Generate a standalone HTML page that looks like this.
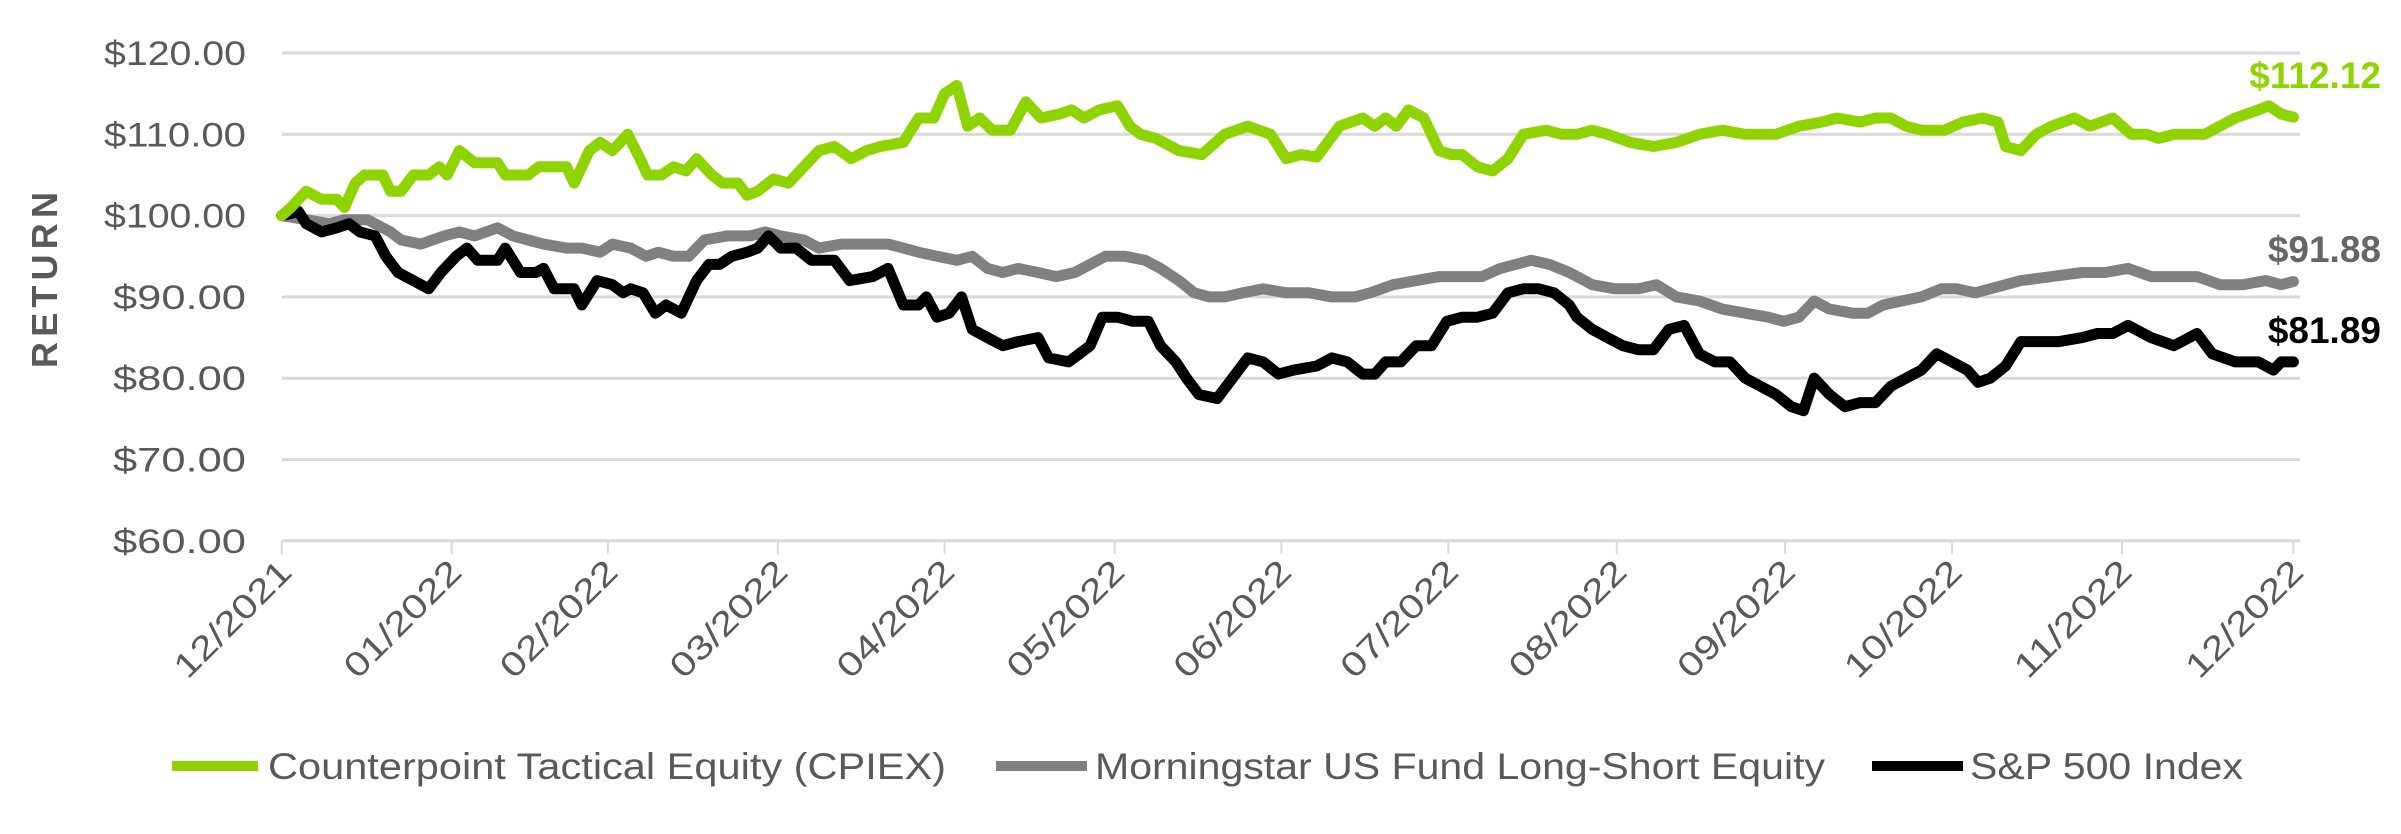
<!DOCTYPE html>
<html><head><meta charset="utf-8"><style>
html,body{margin:0;padding:0;background:#fff;width:2401px;height:834px;overflow:hidden}
svg{display:block}
text{font-family:"Liberation Sans",sans-serif}
</style></head><body>
<svg id="s" width="2401" height="834" viewBox="0 0 2401 834" xmlns="http://www.w3.org/2000/svg">
<g id="grid" stroke="#d9d9d9" stroke-width="3"></g>
<g id="ylab" fill="#595959" font-size="34" text-anchor="end"></g>
<g id="xt" stroke="#d9d9d9" stroke-width="2"></g>
<g id="xlab" fill="#595959" font-size="34" text-anchor="end"></g>
<text transform="translate(57,280) rotate(-90)" text-anchor="middle" font-size="36" font-weight="bold" fill="#595959" textLength="176" lengthAdjust="spacing">RETURN</text>
<polyline id="pg" fill="none" stroke="#808080" stroke-width="11" stroke-linejoin="round" stroke-linecap="round"/>
<polyline id="pb" fill="none" stroke="#000" stroke-width="11" stroke-linejoin="round" stroke-linecap="round"/>
<polyline id="pc" fill="none" stroke="#8fd400" stroke-width="11" stroke-linejoin="round" stroke-linecap="round"/>
<text x="2381" y="88" text-anchor="end" font-size="37" font-weight="bold" fill="#8fd400">$112.12</text>
<text x="2381" y="262" text-anchor="end" font-size="37" font-weight="bold" fill="#666">$91.88</text>
<text x="2381" y="343" text-anchor="end" font-size="37" font-weight="bold" fill="#000">$81.89</text>
<g font-size="37" fill="#595959">
<line x1="172" y1="766" x2="258" y2="766" stroke="#8fd400" stroke-width="10"/>
<text x="268" y="779" textLength="678" lengthAdjust="spacingAndGlyphs">Counterpoint Tactical Equity (CPIEX)</text>
<line x1="996" y1="766" x2="1087" y2="766" stroke="#808080" stroke-width="10"/>
<text x="1095" y="779" textLength="730" lengthAdjust="spacingAndGlyphs">Morningstar US Fund Long-Short Equity</text>
<line x1="1872" y1="766" x2="1963" y2="766" stroke="#000" stroke-width="10"/>
<text x="1970" y="779" textLength="273" lengthAdjust="spacingAndGlyphs">S&amp;P 500 Index</text>
</g>
</svg>
<script>
var S=1.531,ns="http://www.w3.org/2000/svg";
function Y(v){return 53+(120-v)*8.13}
var g=document.getElementById('grid'),yl=document.getElementById('ylab');
for(var v=60;v<=120;v+=10){var l=document.createElementNS(ns,'line');l.setAttribute('x1',282);l.setAttribute('x2',2300);l.setAttribute('y1',Y(v));l.setAttribute('y2',Y(v));g.appendChild(l);
var t=document.createElementNS(ns,'text');t.setAttribute('x',246);t.setAttribute('y',Y(v)+12);t.setAttribute('textLength',v>=100?142:133);t.setAttribute('lengthAdjust','spacingAndGlyphs');t.textContent='$'+v+'.00';yl.appendChild(t);}
var mx=[184,295,397,508,617,728,837,946,1056,1166,1275,1386,1498];
var labs=['12/2021','01/2022','02/2022','03/2022','04/2022','05/2022','06/2022','07/2022','08/2022','09/2022','10/2022','11/2022','12/2022'];
var xt=document.getElementById('xt'),xl=document.getElementById('xlab');
mx.forEach(function(m,i){var x=m*S;var l=document.createElementNS(ns,'line');l.setAttribute('x1',x);l.setAttribute('x2',x);l.setAttribute('y1',541);l.setAttribute('y2',554);xt.appendChild(l);
var t=document.createElementNS(ns,'text');t.setAttribute('transform','translate('+(x+12)+',574) rotate(-45)');t.setAttribute('textLength',150);t.setAttribute('lengthAdjust','spacingAndGlyphs');t.textContent=labs[i];xl.appendChild(t);});
function P(id,a){var s=[];for(var i=0;i<a.length;i+=2)s.push((a[i]*S).toFixed(1)+','+Y(a[i+1]).toFixed(1));document.getElementById(id).setAttribute('points',s.join(' '));}
P('pc',[184,100,190,101,200,103,210,102,220,102,225,101,232,104,238,105,250,105,255,103,262,103,270,105,280,105,287,106,292,105,300,108,310,106.5,325,106.5,330,105,345,105,352,106,370,106,375,104,385,108,392,109,400,108,410,110,418,107,423,105,432,105,440,106,448,105.5,455,107,465,105,472,104,482,104,488,102.5,495,103,505,104.5,515,104,525,106,535,108,545,108.5,556,107,566,108,575,108.5,590,109,600,112,610,112,617,115,625,116,632,111,640,112,648,110.5,660,110.5,670,114,680,112,692,112.5,700,113,708,112,718,113,730,113.5,738,111,745,110,755,109.5,770,108,785,107.5,800,110,815,111,830,110,840,107,850,107.5,860,107.2,875,111,890,112,898,111,905,112,912,111,920,113,930,112,940,108,948,107.5,955,107.5,965,106,975,105.5,985,107,995,110,1010,110.5,1020,110,1030,110,1040,110.5,1050,110,1065,109,1080,108.5,1095,109,1110,110,1125,110.5,1140,110,1160,110,1175,111,1190,111.5,1200,112,1215,111.5,1225,112,1235,112,1245,111,1255,110.5,1270,110.5,1282,111.5,1295,112,1305,111.5,1310,108.5,1320,108,1330,110,1340,111,1355,112,1365,111,1380,112,1392,110,1402,110,1410,109.5,1420,110,1440,110,1450,111,1460,112,1475,113,1482,113.5,1490,112.5,1498,112.1]);
P('pg',[184,100,200,99.5,215,99,225,99.5,240,99.5,255,98,262,97,275,96.5,290,97.5,300,98,310,97.5,325,98.5,335,97.5,345,97,355,96.5,370,96,380,96,392,95.5,400,96.5,412,96,422,95,430,95.5,440,95,450,95,460,97,475,97.5,490,97.5,500,98,510,97.5,525,97,535,96,550,96.5,565,96.5,580,96.5,590,96,600,95.5,612,95,625,94.5,635,95,645,93.5,655,93,665,93.5,678,93,690,92.5,702,93,712,94,722,95,735,95,748,94.5,758,93.5,770,92,780,90.5,790,90,800,90,812,90.5,825,91,840,90.5,855,90.5,870,90,885,90,895,90.5,910,91.5,925,92,940,92.5,955,92.5,968,92.5,980,93.5,990,94,1000,94.5,1012,94,1025,93,1040,91.5,1055,91,1070,91,1082,91.5,1095,90,1110,89.5,1125,88.5,1140,88,1155,87.5,1165,87,1175,87.5,1185,89.5,1195,88.5,1210,88,1220,88,1230,89,1242,89.5,1255,90,1268,91,1278,91,1290,90.5,1300,91,1310,91.5,1320,92,1340,92.5,1360,93,1375,93,1390,93.5,1405,92.5,1420,92.5,1435,92.5,1450,91.5,1465,91.5,1480,92,1490,91.5,1498,91.9]);
P('pb',[184,100,195,100.5,200,99,210,98,220,98.5,228,99,235,98,245,97.5,252,95,260,93,270,92,280,91,288,93,298,95,305,96,312,94.5,325,94.5,330,96,340,93,350,93,355,93.5,362,91,375,91,380,89,390,92,400,91.5,407,90.5,412,91,420,90.5,428,88,435,89,445,88,455,92,463,94,470,94,478,95,488,95.5,495,96,502,97.5,510,96,520,96,530,94.5,545,94.5,555,92,570,92.5,580,93.5,590,89,600,89,605,90,612,87.5,620,88,628,90,635,86,645,85,655,84,665,84.5,678,85,685,82.5,698,82,705,83,712,84,720,87.5,730,87.5,740,87,750,87,758,84,768,82,775,80,783,78,795,77.5,805,80,815,82.5,825,82,835,80.5,845,81,860,81.5,870,82.5,880,82,890,80.5,898,80.5,905,82,915,82,925,84,935,84,945,87,955,87.5,965,87.5,975,88,985,90.5,995,91,1005,91,1015,90.5,1025,89,1030,87.5,1040,86,1050,85,1060,84,1070,83.5,1080,83.5,1090,86,1100,86.5,1110,83,1120,82,1130,82,1140,80,1150,79,1160,78,1170,76.5,1178,76,1185,80,1195,78,1205,76.5,1215,77,1225,77,1235,79,1245,80,1255,81,1265,83,1275,82,1285,81,1292,79.5,1300,80,1310,81.5,1320,84.5,1330,84.5,1345,84.5,1360,85,1370,85.5,1380,85.5,1390,86.5,1405,85,1420,84,1435,85.5,1445,83,1460,82,1475,82,1485,81,1490,82,1498,82]);
</script>
</body></html>
